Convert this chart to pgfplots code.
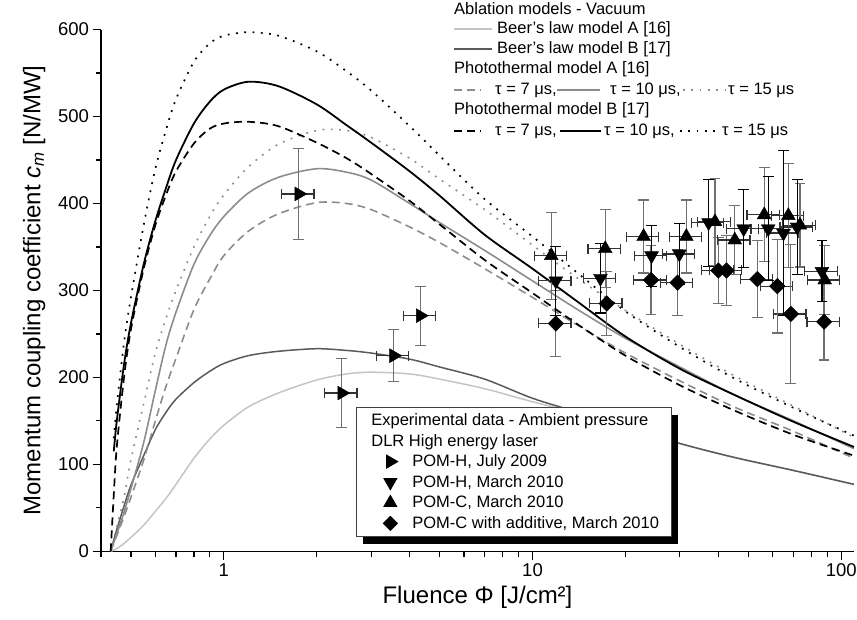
\documentclass[border=0pt]{standalone}
\usepackage{fontspec}
\setmainfont{Liberation Sans}
\usepackage{pgfplots}
\usepackage{pgfplotstable}
\pgfplotsset{compat=1.18}
\usetikzlibrary{shadows}
\definecolor{beerA}{HTML}{C4C4C4}
\definecolor{beerB}{HTML}{5A5A5A}
\definecolor{ptA}{HTML}{8C8C8C}
\definecolor{errg}{HTML}{707070}

\pgfplotstableread{
x y ex ey
1.75 411 0.12 52
2.41 182 0.12 40
3.55 225 0.12 30
4.33 271 0.12 34
}\rightT
\pgfplotstableread{
x y ex ey
11.9 311 0.12 40
16.6 314 0.12 40
24.3 340 0.12 35
29.9 342 0.12 35
37.2 378 0.12 50
48.3 371 0.12 45
58.0 371 0.12 60
65.0 366 0.12 95
72.0 373 0.12 55
86.6 322 0.12 35
}\downT
\pgfplotstableread{
x y ex ey
11.5 340 0.12 50
17.2 348 0.12 45
22.9 362 0.12 42
31.5 362 0.12 42
39.0 379 0.12 50
45.2 358 0.12 40
56.3 387 0.12 54
67.4 386 0.12 60
73.5 375 0.12 48
88.4 312 0.12 40
}\upT
\pgfplotstableread{
x y ex ey
11.9 262 0.12 38
17.4 285 0.12 37
24.2 312 0.12 40
29.5 309 0.12 38
40.0 323 0.12 38
42.5 323 0.12 40
53.5 313 0.12 44
62.1 305 0.12 54
68.7 273 0.12 80
88.0 264 0.12 44
}\diaT

\pgfplotsset{
  xerr/.style={forget plot, only marks, mark=none,
    error bars/x dir=both, error bars/x explicit relative,
    error bars/error bar style={line width=1.2pt, color=#1},
    error bars/error mark options={rotate=90, mark size=5pt, line width=1.2pt, color=#1}},
  yerr/.style={forget plot, only marks,
    error bars/y dir=both, error bars/y explicit,
    error bars/error bar style={line width=1.2pt, color=#1},
    error bars/error mark options={rotate=90, mark size=5.4pt, line width=1.2pt, color=#1}},
  mkleg/.style={legend image code/.code={\draw[overlay,##1] plot coordinates {(34pt,0pt)};}}
}

\begin{document}
\begin{tikzpicture}
\begin{axis}[
  scale only axis, width=753pt, height=521.7pt,
  xmode=log, xmin=0.4, xmax=110, ymin=0, ymax=600,
  axis x line=bottom, axis y line=left,
  axis line style={-, line width=1.3pt},
  xtick={1,10,100}, xticklabels={1,10,100},
  minor xtick={0.4,0.5,0.6,0.7,0.8,0.9,2,3,4,5,6,7,8,9,20,30,40,50,60,70,80,90},
  ytick={0,100,200,300,400,500,600},
  minor ytick={50,150,250,350,450,550},
  tick align=outside, major tick length=8.5pt, minor tick length=5.5pt,
  every tick/.style={black, line width=1.2pt},
  tick label style={font=\fontsize{18.5}{19}\selectfont},
  /pgf/number format/assume math mode=true,
  xlabel={Fluence Φ [J/cm²]},
  ylabel={Momentum coupling coefficient \textit{c}\textsubscript{\textit{m}} [N/MW]},
  label style={font=\fontsize{24}{25}\selectfont},
  ylabel shift=6pt, xlabel shift=3pt,
  clip=false,
  legend cell align=left,
  legend style={at={(0.3386,0.2766)}, anchor=north west, draw=black!75, line width=0.8pt,
    fill=white, font=\fontsize{16.5}{19}\selectfont,
    inner xsep=0pt, inner ysep=4pt, row sep=2.6pt, column sep=0pt,
    nodes={inner sep=0pt, text height=14pt, text depth=4pt},
    drop shadow={shadow xshift=7pt, shadow yshift=-8pt, fill=black, opacity=1}},
]
% Beer's law model A
\addplot[forget plot, beerA, line width=1.5pt, smooth] coordinates {
(0.43,0)(0.45,3)(0.475,9)(0.5,16)(0.55,30)(0.6,46)(0.65,61)(0.7,77)(0.8,107)(0.9,129)
(1.0,145)(1.2,166)(1.5,182)(2,197)(2.5,204)(3,206)(4,204)(5,198)(7,187)(10,172)(14,159)
(20,143)(30,124)(45,108)(70,93)(110,77)};
% Beer's law model B
\addplot[forget plot, beerB, line width=1.5pt, smooth] coordinates {
(0.43,0)(0.45,25)(0.475,52)(0.5,76)(0.55,110)(0.6,140)(0.65,160)(0.7,175)(0.8,194)(0.9,207)
(1.0,216)(1.2,225)(1.5,230)(2,233)(2.5,231)(3,228)(4,221)(5,212)(7,198)(10,176)(14,160)
(20,143)(30,124)(45,108)(70,93)(110,77)};
% Photothermal A tau=7
\addplot[forget plot, ptA, line width=1.6pt, smooth, dash pattern=on 8pt off 5pt] coordinates {
(0.43,0)(0.45,18)(0.475,40)(0.5,62)(0.55,105)(0.6,150)(0.65,190)(0.7,222)(0.8,278)(0.9,313)
(1.0,340)(1.2,368)(1.5,388)(2,401)(2.5,400)(3,393)(4,373)(5,355)(7,325)(10,292)(14,260)
(20,228)(30,196)(45,166)(70,138)(110,107)};
% Photothermal A tau=10
\addplot[forget plot, ptA, line width=1.6pt, smooth] coordinates {
(0.43,0)(0.45,20)(0.475,45)(0.5,72)(0.55,125)(0.6,185)(0.65,238)(0.7,275)(0.8,330)(0.9,363)
(1.0,385)(1.2,412)(1.5,430)(2,440)(2.5,436)(3,427)(4,400)(5,378)(7,346)(10,311)(14,278)
(20,245)(30,212)(45,180)(70,150)(110,118)};
% Photothermal A tau=15
\addplot[forget plot, ptA, line width=1.6pt, smooth, dash pattern=on 1.8pt off 6.5pt] coordinates {
(0.43,0)(0.45,28)(0.475,62)(0.5,105)(0.55,170)(0.6,228)(0.65,268)(0.7,300)(0.8,350)(0.9,385)
(1.0,410)(1.2,442)(1.5,468)(2,484)(2.5,484)(3,476)(4,452)(5,428)(7,393)(10,352)(14,314)
(20,277)(30,238)(45,202)(70,167)(110,131)};
% Photothermal B tau=7
\addplot[forget plot, black, line width=1.7pt, smooth, dash pattern=on 8pt off 5pt] coordinates {
(0.43,0)(0.44,65)(0.45,120)(0.475,200)(0.5,255)(0.55,325)(0.6,375)(0.65,410)(0.7,437)
(0.8,469)(0.9,486)(1.0,492)(1.2,494)(1.5,489)(2,470)(2.5,452)(3,434)(4,403)(5,376)(7,335)
(10,297)(14,261)(20,225)(30,191)(45,162)(70,134)(110,110)};
% Photothermal B tau=10
\addplot[forget plot, black, line width=1.8pt, smooth] coordinates {
(0.44,115)(0.45,150)(0.475,215)(0.5,262)(0.55,330)(0.6,380)(0.65,418)(0.7,450)(0.8,492)
(0.9,517)(1.0,531)(1.2,540)(1.5,535)(2,514)(2.5,490)(3,470)(4,437)(5,409)(7,364)(10,325)
(14,287)(20,247)(30,210)(45,180)(70,149)(110,120)};
% Photothermal B tau=15
\addplot[forget plot, black, line width=1.7pt, smooth, dash pattern=on 1.8pt off 6.5pt] coordinates {
(0.44,130)(0.45,168)(0.475,240)(0.5,292)(0.55,375)(0.6,440)(0.65,485)(0.7,520)(0.8,563)
(0.9,584)(1.0,593)(1.2,597)(1.5,593)(2,575)(2.5,552)(3,530)(4,489)(5,455)(7,405)(10,362)
(14,320)(20,276)(30,235)(45,199)(70,165)(110,133)};

% ---- experimental data ----
\addplot[xerr=black!80] table[x=x, y=y, x error=ex] {\rightT};
\addplot[yerr=errg, mark=triangle*, mark size=8pt, mark options={rotate=-90, fill=black, draw=black}] table[x=x, y=y, y error=ey] {\rightT};

\addplot[xerr=black!80] table[x=x, y=y, x error=ex] {\diaT};
\addplot[yerr=errg, mark=square*, mark size=5.5pt, mark options={rotate=45, fill=black, draw=black}] table[x=x, y=y, y error=ey] {\diaT};

\addplot[xerr=black!80] table[x=x, y=y, x error=ex] {\upT};
\addplot[yerr=errg, mark=triangle*, mark size=8pt, mark options={fill=black, draw=black}] table[x=x, y=y, y error=ey] {\upT};

\addplot[xerr=black!80] table[x=x, y=y, x error=ex] {\downT};
\addplot[yerr=black, mark=triangle*, mark size=8pt, mark options={rotate=180, fill=black, draw=black}] table[x=x, y=y, y error=ey] {\downT};

% ---- legend for experimental data ----
\addlegendimage{empty legend}
\addlegendentry{\hspace{15pt}Experimental data - Ambient pressure\rule{23pt}{0pt}}
\addlegendimage{empty legend}
\addlegendentry{\hspace{15pt}DLR High energy laser}
\addlegendimage{mkleg, only marks, mark=triangle*, mark size=7.5pt, mark options={rotate=-90, fill=black, draw=black}}
\addlegendentry{\hspace{56pt}POM-H, July 2009}
\addlegendimage{mkleg, only marks, mark=triangle*, mark size=7.5pt, mark options={rotate=180, fill=black, draw=black}}
\addlegendentry{\hspace{56pt}POM-H, March 2010}
\addlegendimage{mkleg, only marks, mark=triangle*, mark size=7.5pt, mark options={fill=black, draw=black}}
\addlegendentry{\hspace{56pt}POM-C, March 2010}
\addlegendimage{mkleg, only marks, mark=square*, mark size=5pt, mark options={rotate=45, fill=black, draw=black}}
\addlegendentry{\hspace{56pt}POM-C with additive, March 2010}
\end{axis}

% ---- legend for vacuum models ----
\begin{scope}[font=\fontsize{16.5}{19}\selectfont, every node/.style={anchor=west, inner sep=0pt}]
\node at (353pt,543pt) {Ablation models - Vacuum};
\draw[beerA, line width=1.5pt] (353pt,522.3pt) -- (391pt,522.3pt);
\node at (396pt,522.3pt) {Beer's law model A [16]};
\draw[beerB, line width=1.5pt] (353pt,502.3pt) -- (391pt,502.3pt);
\node at (396pt,502.3pt) {Beer's law model B [17]};
\node at (353pt,482pt) {Photothermal model A [16]};
\draw[ptA, line width=1.6pt, dash pattern=on 8pt off 5pt] (353pt,461.3pt) -- (380pt,461.3pt);
\node at (394pt,461.3pt) {τ = 7 μs,};
\draw[ptA, line width=1.6pt] (456pt,461.3pt) -- (499pt,461.3pt);
\node at (509pt,461.3pt) {τ = 10 μs,};
\draw[ptA, line width=1.6pt, dash pattern=on 1.8pt off 6.5pt] (582pt,461.3pt) -- (624pt,461.3pt);
\node at (627pt,461.3pt) {τ = 15 μs};
\node at (353pt,441.3pt) {Photothermal model B [17]};
\draw[black, line width=1.7pt, dash pattern=on 8pt off 5pt] (353pt,420.3pt) -- (380pt,420.3pt);
\node at (394pt,420.3pt) {τ = 7 μs,};
\draw[black, line width=1.8pt] (459pt,420.3pt) -- (500pt,420.3pt);
\node at (503pt,420.3pt) {τ = 10 μs,};
\draw[black, line width=1.7pt, dash pattern=on 1.8pt off 6.5pt] (579pt,420.3pt) -- (614pt,420.3pt);
\node at (621pt,420.3pt) {τ = 15 μs};
\end{scope}

\pgfresetboundingbox
\path[use as bounding box] (-101pt,-67.7pt) rectangle (756pt,551.3pt);
\end{tikzpicture}
\end{document}
